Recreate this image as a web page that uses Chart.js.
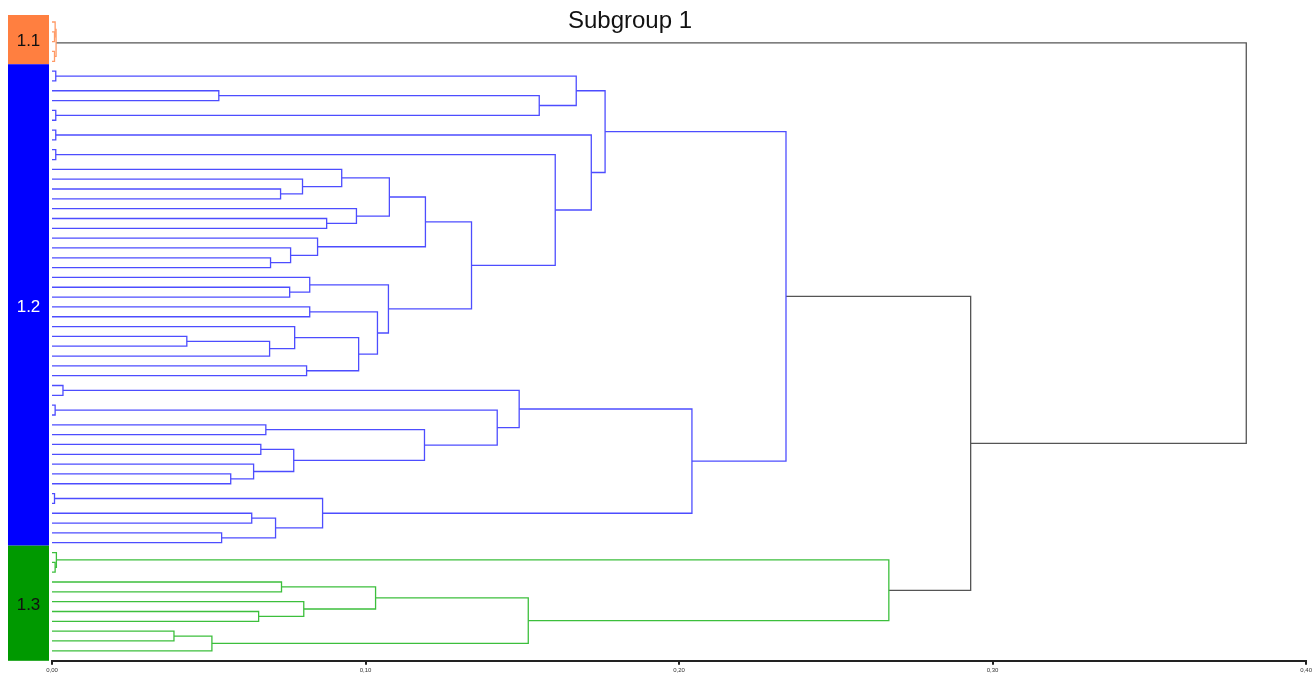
<!DOCTYPE html>
<html>
<head>
<meta charset="utf-8">
<script src="https://cdn.jsdelivr.net/npm/chart.js@4.4.1/dist/chart.umd.min.js"></script>
<style>
  html, body { margin: 0; padding: 0; background: #fff; }
  #wrap { width: 1314px; height: 679px; }
</style>
</head>
<body>
<div id="wrap"><canvas id="chart"></canvas></div>
<script>
// clusters, top to bottom
const clusterLabels = ["1.1", "1.2", "1.3"];
const clusterSizes = [5, 49, 11];

// linkage: ids < 65 are leaves (top to bottom), ids >= 65 are earlier merges (65 + row)
const mergeA = [1, 3, 0, 67, 5, 7, 9, 70, 69, 11, 13, 17, 16, 15, 20, 19, 78, 24, 23, 22,
  81, 27, 26, 29, 32, 89, 31, 35, 91, 88, 87, 85, 75, 74, 73, 37, 39, 41, 43, 46,
  45, 103, 102, 101, 100, 48, 50, 52, 111, 110, 109, 99, 55, 54, 57, 60, 59, 119, 62, 123,
  122, 118, 116, 68];
const mergeB = [2, 4, 65, 66, 6, 8, 10, 71, 72, 12, 14, 18, 76, 77, 21, 79, 80, 25, 82, 83,
  84, 28, 86, 30, 33, 34, 90, 36, 92, 93, 94, 95, 96, 97, 98, 38, 40, 42, 44, 47,
  104, 105, 106, 107, 108, 49, 51, 53, 112, 113, 114, 115, 56, 117, 58, 61, 120, 121, 63, 64,
  124, 125, 126, 127];
const mergeHeight = [0.0008, 0.0008, 0.001, 0.0013, 0.0012, 0.0532, 0.0012, 0.1554, 0.1672, 0.0012,
  0.0012, 0.0729, 0.0799, 0.0924, 0.0876, 0.0971, 0.1076, 0.0697, 0.0761, 0.0847,
  0.1191, 0.0758, 0.0822, 0.0822, 0.043, 0.0694, 0.0774, 0.0812, 0.0978, 0.1038,
  0.1073, 0.1338, 0.1605, 0.172, 0.1764, 0.0035, 0.001, 0.0682, 0.0666, 0.057,
  0.0643, 0.0771, 0.1188, 0.142, 0.149, 0.0008, 0.0637, 0.0541, 0.0713, 0.0863,
  0.2041, 0.2341, 0.001, 0.0014, 0.0732, 0.0659, 0.0803, 0.1032, 0.0389, 0.051,
  0.1519, 0.2669, 0.293, 0.3809];

const xTicks = [0, 0.1, 0.2, 0.3, 0.4];

const lineColors = ["#ff9a66", "#4d4dff", "#3cbf3c"];
const blockColors = ["#ff7f40", "#0000ff", "#009900"];
const blockText = ["#111", "#fff", "#111"];
const rootColor = "#555";

// leaf positions and cluster of each leaf
const pos = [], hgt = [], grp = [];
clusterSizes.forEach((n, c) => {
  for (let i = 0; i < n; i++) { pos.push(pos.length); hgt.push(0); grp.push(c); }
});

const datasets = [];
mergeA.forEach((a, k) => {
  const b = mergeB[k];
  const h = mergeHeight[k];
  pos.push((pos[a] + pos[b]) / 2);
  hgt.push(h);
  const g = grp[a] === grp[b] ? grp[a] : -1;
  grp.push(g);
  datasets.push({
    data: [
      { x: hgt[a], y: pos[a] },
      { x: h, y: pos[a] },
      { x: h, y: pos[b] },
      { x: hgt[b], y: pos[b] }
    ],
    showLine: true,
    borderColor: g < 0 ? rootColor : lineColors[g],
    borderWidth: 1.3,
    pointRadius: 0,
    fill: false,
    tension: 0
  });
});

const clusterBlocks = {
  id: "clusterBlocks",
  afterDraw(chart) {
    const { ctx, chartArea, scales: { y } } = chart;
    let first = 0;
    ctx.save();
    clusterSizes.forEach((n, c) => {
      const last = first + n - 1;
      const top = c === 0 ? chartArea.top : y.getPixelForValue(first - 0.7);
      const bottom = c === clusterSizes.length - 1 ? chartArea.bottom : y.getPixelForValue(last + 0.3);
      const left = chartArea.left - 44, right = chartArea.left - 3;
      ctx.fillStyle = blockColors[c];
      ctx.fillRect(left, top, right - left, bottom - top);
      ctx.fillStyle = blockText[c];
      ctx.font = '17px "Liberation Sans", Arial, sans-serif';
      ctx.textAlign = "center";
      ctx.textBaseline = "middle";
      ctx.fillText(clusterLabels[c], (left + right) / 2, (top + bottom) / 2 + 2);
      first += n;
    });
    ctx.fillStyle = "#111";
    ctx.font = '24px "Liberation Sans", Arial, sans-serif';
    ctx.textAlign = "center";
    ctx.textBaseline = "middle";
    ctx.fillText("Subgroup 1", 630, 21);
    ctx.restore();
  }
};

new Chart(document.getElementById("chart"), {
  type: "scatter",
  data: { datasets },
  options: {
    responsive: true,
    maintainAspectRatio: false,
    animation: false,
    layout: { padding: { left: 52, right: 6, top: 15, bottom: 3 } },
    plugins: { legend: { display: false }, tooltip: { enabled: false } },
    scales: {
      x: {
        type: "linear",
        min: 0,
        max: 0.4,
        afterBuildTicks: (axis) => { axis.ticks = xTicks.map(v => ({ value: v })); },
        ticks: {
          callback: (v) => v.toFixed(2).replace(".", ","),
          font: { size: 6, family: "Liberation Sans" },
          color: "#333",
          padding: 2,
          maxRotation: 0
        },
        grid: { drawOnChartArea: false, drawTicks: true, tickLength: 4, color: "#222", lineWidth: 2 },
        border: { display: true, color: "#222", width: 2 }
      },
      y: {
        type: "linear",
        reverse: true,
        min: -0.712,
        max: 65.02,
        display: false
      }
    }
  },
  plugins: [clusterBlocks]
});
</script>
</body>
</html>
